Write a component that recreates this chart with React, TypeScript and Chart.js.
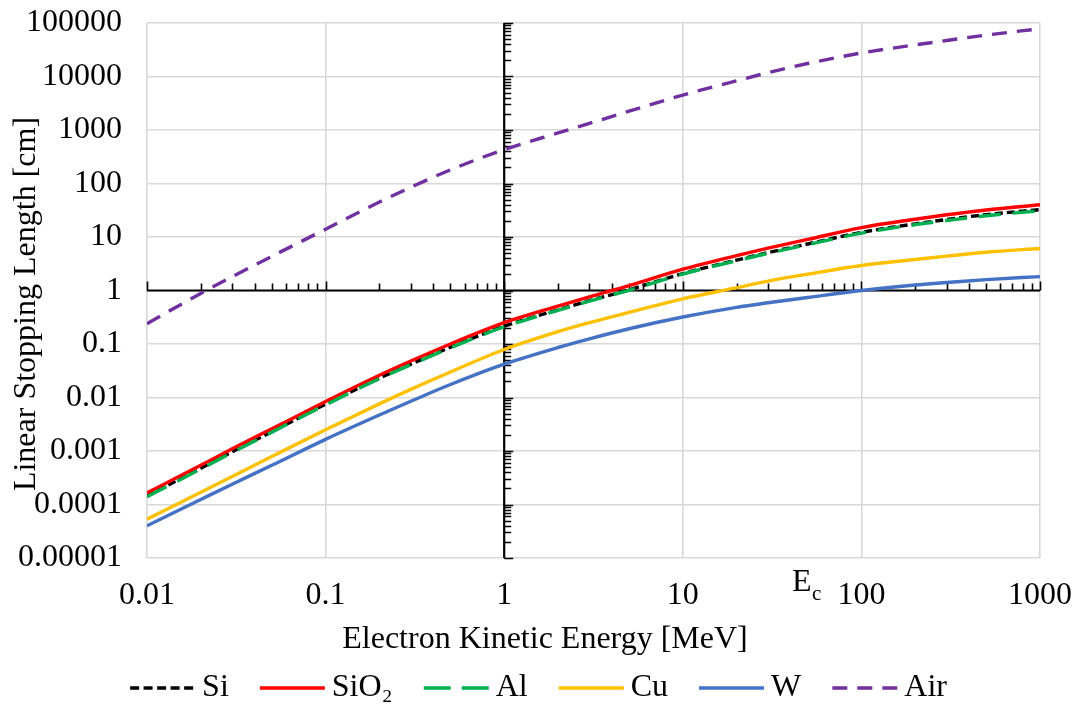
import React, { useEffect, useRef } from 'react';
import { Chart, registerables } from 'chart.js';

Chart.register(...registerables);

const FONT = "'Liberation Serif', 'Times New Roman', serif";

// Electron kinetic energy [MeV]
const energy = [0.01, 0.02, 0.03, 0.05, 0.1, 0.2, 0.3, 0.5, 1, 2, 3, 5, 10, 20, 30, 50, 100, 200, 300, 500, 1000];

// Linear stopping length [cm]
const siValues = [1.45e-4, 4.75e-4, 9.7e-4, 2.3e-3, 7.5e-3, 0.023, 0.042, 0.087, 0.215, 0.435, 0.645, 1.03, 2.07, 3.7, 5.1, 7.4, 12.2, 17.6, 21.2, 26.2, 32.5];
const sio2Values = [1.65e-4, 5.4e-4, 1.1e-3, 2.6e-3, 8.4e-3, 0.026, 0.048, 0.1, 0.25, 0.51, 0.76, 1.23, 2.5, 4.5, 6.2, 9.0, 15, 21.5, 26, 32, 40];
const alValues = [1.4e-4, 4.6e-4, 9.4e-4, 2.25e-3, 7.3e-3, 0.0225, 0.041, 0.085, 0.21, 0.425, 0.63, 1.01, 2.03, 3.6, 4.95, 7.2, 11.8, 17.0, 20.3, 25, 31];
const cuValues = [5.3e-5, 1.7e-4, 3.35e-4, 7.9e-4, 2.5e-3, 7.6e-3, 0.0142, 0.03, 0.079, 0.17, 0.25, 0.39, 0.70, 1.13, 1.5, 2.02, 2.94, 3.8, 4.4, 5.2, 6.1];
const wValues = [4.0e-5, 1.24e-4, 2.4e-4, 5.4e-4, 1.65e-3, 4.7e-3, 8.5e-3, 0.0175, 0.042, 0.086, 0.125, 0.193, 0.32, 0.485, 0.59, 0.74, 1.0, 1.27, 1.41, 1.6, 1.82];
const airValues = [0.24, 0.88, 1.81, 4.35, 14, 45, 85, 180, 430, 880, 1330, 2250, 4500, 8300, 11800, 17500, 27500, 39000, 47000, 59500, 78000];

const seriesNames = ['Si', 'SiO\u2082', 'Al', 'Cu', 'W', 'Air'];
const seriesValues = [siValues, sio2Values, alValues, cuValues, wValues, airValues];
const seriesColors = ['#000000', '#FF0000', '#00B050', '#FFC000', '#4472C4', '#7030A0'];
const seriesDashes: number[][] = [[8, 4], [], [22, 12], [], [], [15, 10]];
const legendDashes: number[][] = [[9, 4.5], [], [27, 11], [], [], [15, 10]];
const LINE_WIDTH = 3.4;

const xTickLabels = ['0.01', '0.1', '1', '10', '100', '1000'];
const yTickLabels = ['0.00001', '0.0001', '0.001', '0.01', '0.1', '1', '10', '100', '1000', '10000', '100000'];
const X_MIN_EXP = -2;
const Y_MIN_EXP = -5;

const xTitle = 'Electron Kinetic Energy [MeV]';
const yTitle = 'Linear Stopping Length [cm]';

function decadeIndex(v: number | undefined, minExp: number): number {
  if (v === undefined || v === null || !(v > 0)) return -1;
  const l = Math.log10(v);
  const r = Math.round(l);
  return Math.abs(l - r) < 1e-6 ? r - minExp : -1;
}

// legend sample geometry (box width used for layout; image drawn centred on the box)
const LEGEND_BOX = 54;
const LEGEND_PAD = 33;
const LEGEND_IMG_W = 74;
const LEGEND_LINE_START = 8;
const LEGEND_LINE_END = 73;

function makeLegendImage(color: string, dash: number[]): HTMLCanvasElement {
  const c = document.createElement('canvas');
  c.width = LEGEND_IMG_W;
  c.height = 8;
  const g = c.getContext('2d')!;
  g.strokeStyle = color;
  g.lineWidth = LINE_WIDTH;
  g.setLineDash(dash);
  g.beginPath();
  g.moveTo(LEGEND_LINE_START, 4);
  g.lineTo(LEGEND_LINE_END, 4);
  g.stroke();
  return c;
}

const crossAxes = {
  id: 'crossAxes',
  beforeDatasetsDraw(chart: any) {
    const { ctx, chartArea: ca, scales } = chart;
    const x = scales.x;
    const y = scales.y;
    const x0 = x.getPixelForValue(1);
    const y0 = y.getPixelForValue(1);
    ctx.save();
    ctx.strokeStyle = '#000';
    ctx.lineWidth = 2.2;
    ctx.beginPath();
    ctx.moveTo(ca.left, y0);
    ctx.lineTo(ca.right, y0);
    ctx.moveTo(x0, ca.top);
    ctx.lineTo(x0, ca.bottom);
    ctx.stroke();
    ctx.lineWidth = 1.6;
    ctx.beginPath();
    for (let e = -2; e <= 3; e++) {
      for (let k = 1; k <= 9; k++) {
        const v = k * Math.pow(10, e);
        if (v > 1000 * (1 + 1e-9)) break;
        const px = Math.round(x.getPixelForValue(v)) + 0.5;
        const len = k === 1 ? 9 : 7;
        ctx.moveTo(px, y0);
        ctx.lineTo(px, y0 - len);
      }
    }
    for (let e = -5; e <= 5; e++) {
      for (let k = 1; k <= 9; k++) {
        const v = k * Math.pow(10, e);
        if (v > 1e5 * (1 + 1e-9)) break;
        const py = Math.round(y.getPixelForValue(v)) + 0.5;
        const len = k === 1 ? 9 : 7;
        ctx.moveTo(x0, py);
        ctx.lineTo(x0 + len, py);
      }
    }
    ctx.stroke();
    ctx.restore();
  },
  afterDraw(chart: any) {
    const { ctx } = chart;
    ctx.save();
    ctx.fillStyle = '#000';
    ctx.font = `32px ${FONT}`;
    ctx.textAlign = 'center';
    ctx.textBaseline = 'alphabetic';
    ctx.fillText(xTitle, 545, 648);
    ctx.save();
    ctx.translate(35, 304);
    ctx.rotate(-Math.PI / 2);
    ctx.fillText(yTitle, 0, 0);
    ctx.restore();
    ctx.textAlign = 'left';
    ctx.fillText('E', 792, 591);
    ctx.font = `21px ${FONT}`;
    ctx.fillText('c', 812, 600);
    ctx.restore();
  },
};

export default function App() {
  const canvasRef = useRef<HTMLCanvasElement | null>(null);

  useEffect(() => {
    document.body.style.margin = '0';
    const canvas = canvasRef.current;
    if (!canvas) return;
    const legendImages = seriesColors.map((c, i) => makeLegendImage(c, legendDashes[i]));
    const datasets = seriesNames.map((name, i) => ({
      label: name,
      data: energy.map((e, j) => ({ x: e, y: seriesValues[i][j] })),
      borderColor: seriesColors[i],
      backgroundColor: seriesColors[i],
      borderWidth: LINE_WIDTH,
      borderDash: seriesDashes[i],
      pointRadius: 0,
      pointHoverRadius: 0,
      fill: false,
      cubicInterpolationMode: 'monotone' as const,
      order: seriesNames.length - i,
    }));

    const chart = new Chart(canvas, {
      type: 'line',
      data: { datasets },
      plugins: [crossAxes],
      options: {
        animation: false,
        responsive: false,
        devicePixelRatio: 1,
        layout: { padding: { left: 0, right: 0, top: 23, bottom: 6 } },
        plugins: {
          tooltip: { enabled: false },
          legend: {
            position: 'bottom',
            labels: {
              usePointStyle: true,
              pointStyleWidth: LEGEND_BOX,
              padding: LEGEND_PAD,
              color: '#000',
              font: { family: FONT, size: 32 },
              sort: (a: any, b: any) => a.datasetIndex - b.datasetIndex,
              generateLabels: (ch: any) => {
                const items = (Chart.defaults as any).plugins.legend.labels.generateLabels(ch);
                items.forEach((it: any) => {
                  it.pointStyle = legendImages[it.datasetIndex];
                  it.rotation = 0;
                });
                return items;
              },
            },
          },
        },
        scales: {
          x: {
            type: 'logarithmic',
            position: 'bottom',
            min: 0.01,
            max: 1000,
            afterFit: (s: any) => {
              s.height = 81;
              s.paddingLeft = 0;
              s.paddingRight = 39;
            },
            border: { display: false },
            grid: {
              color: (c: any) => (decadeIndex(c.tick?.value, X_MIN_EXP) >= 0 ? '#d9d9d9' : 'rgba(0,0,0,0)'),
              lineWidth: 1.6,
              drawTicks: false,
            },
            ticks: {
              autoSkip: false,
              maxRotation: 0,
              minRotation: 0,
              padding: 18,
              color: '#000',
              font: { family: FONT, size: 32 },
              callback: (v: any) => {
                const i = decadeIndex(Number(v), X_MIN_EXP);
                return i >= 0 ? xTickLabels[i] : '';
              },
            },
          },
          y: {
            type: 'logarithmic',
            position: 'left',
            min: 1e-5,
            max: 1e5,
            afterFit: (s: any) => {
              s.width = 147;
              s.paddingTop = 0;
              s.paddingBottom = 0;
            },
            border: { display: false },
            grid: {
              color: (c: any) => (decadeIndex(c.tick?.value, Y_MIN_EXP) >= 0 ? '#d9d9d9' : 'rgba(0,0,0,0)'),
              lineWidth: 1.6,
              drawTicks: false,
            },
            ticks: {
              autoSkip: false,
              padding: 25,
              color: '#000',
              font: { family: FONT, size: 32 },
              callback: (v: any) => {
                const i = decadeIndex(Number(v), Y_MIN_EXP);
                return i >= 0 ? yTickLabels[i] : '';
              },
            },
          },
        },
      } as any,
    });
    return () => chart.destroy();
  }, []);

  return (
    <div style={{ width: 1079, height: 720, background: '#fff' }}>
      <canvas ref={canvasRef} width={1079} height={720} style={{ display: 'block' }} />
    </div>
  );
}
